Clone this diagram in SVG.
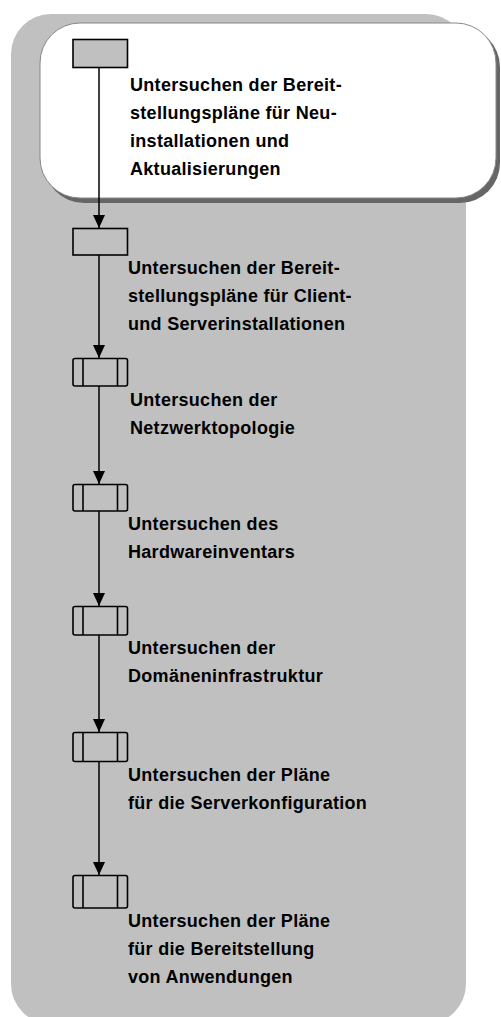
<svg xmlns="http://www.w3.org/2000/svg" width="501" height="1017" viewBox="0 0 501 1017">
<style>
.t{font-family:"Liberation Sans",Arial,sans-serif;font-weight:bold;font-size:18px;letter-spacing:0.3px;fill:#000}
.box{fill:none;stroke:#000;stroke-width:1.6}
.bar{stroke:#000;stroke-width:1.6}
.conn{stroke:#000;stroke-width:1.5;fill:none}
</style>
<defs>
<marker id="arr" markerUnits="userSpaceOnUse" markerWidth="14" markerHeight="14" refX="13" refY="6" orient="auto">
<path d="M0,0 L13,6 L0,12 z" fill="#000"/>
</marker>
</defs>
<rect x="0" y="0" width="501" height="1017" fill="#fff"/>
<g id="panel">
<rect x="11" y="14" width="455" height="1010" rx="40" ry="40" fill="#c0c0c0"/>
</g>
<g id="header">
<rect x="44" y="27" width="456" height="176" rx="40" ry="40" fill="#666"/>
<rect x="40" y="23" width="456" height="175" rx="40" ry="40" fill="#fff" stroke="#888" stroke-width="1"/>
</g>
<g id="connectors">
<line class="conn" x1="99" y1="67" x2="99" y2="228" marker-end="url(#arr)"/>
<line class="conn" x1="99" y1="255" x2="99" y2="358" marker-end="url(#arr)"/>
<line class="conn" x1="99" y1="386" x2="99" y2="484" marker-end="url(#arr)"/>
<line class="conn" x1="99" y1="511" x2="99" y2="606" marker-end="url(#arr)"/>
<line class="conn" x1="99" y1="635" x2="99" y2="732" marker-end="url(#arr)"/>
<line class="conn" x1="99" y1="762" x2="99" y2="875" marker-end="url(#arr)"/>
</g>
<g id="n1">
<rect x="73" y="39.5" width="54.5" height="28" fill="#c0c0c0" stroke="#000" stroke-width="1.6"/>
<text class="t" x="130" y="91">Untersuchen der Bereit-</text>
<text class="t" x="130" y="119">stellungspläne für Neu-</text>
<text class="t" x="130" y="147">installationen und</text>
<text class="t" x="130" y="175">Aktualisierungen</text>
</g>
<g id="n2">
<rect class="box" x="73" y="228.5" width="54.5" height="26.5"/>
<text class="t" x="128" y="274">Untersuchen der Bereit-</text>
<text class="t" x="128" y="302">stellungspläne für Client-</text>
<text class="t" x="128" y="330">und Serverinstallationen</text>
</g>
<g id="n3">
<rect class="box" x="73" y="358.5" width="54.5" height="27.5" rx="2"/>
<line class="bar" x1="83" y1="358.5" x2="83" y2="386"/>
<line class="bar" x1="117.5" y1="358.5" x2="117.5" y2="386"/>
<text class="t" x="130" y="406">Untersuchen der</text>
<text class="t" x="130" y="434">Netzwerktopologie</text>
</g>
<g id="n4">
<rect class="box" x="73" y="484.5" width="54.5" height="26.5" rx="2"/>
<line class="bar" x1="83" y1="484.5" x2="83" y2="511"/>
<line class="bar" x1="117.5" y1="484.5" x2="117.5" y2="511"/>
<text class="t" x="128" y="530">Untersuchen des</text>
<text class="t" x="128" y="558">Hardwareinventars</text>
</g>
<g id="n5">
<rect class="box" x="73" y="606.5" width="54.5" height="28.5" rx="2"/>
<line class="bar" x1="83" y1="606.5" x2="83" y2="635"/>
<line class="bar" x1="117.5" y1="606.5" x2="117.5" y2="635"/>
<text class="t" x="128" y="654">Untersuchen der</text>
<text class="t" x="128" y="682">Domäneninfrastruktur</text>
</g>
<g id="n6">
<rect class="box" x="73" y="732.5" width="54.5" height="29" rx="2"/>
<line class="bar" x1="83" y1="732.5" x2="83" y2="761.5"/>
<line class="bar" x1="117.5" y1="732.5" x2="117.5" y2="761.5"/>
<text class="t" x="128" y="781">Untersuchen der Pläne</text>
<text class="t" x="128" y="809">für die Serverkonfiguration</text>
</g>
<g id="n7">
<rect class="box" x="73" y="875.5" width="54.5" height="32.5" rx="2"/>
<line class="bar" x1="83" y1="875.5" x2="83" y2="908"/>
<line class="bar" x1="117.5" y1="875.5" x2="117.5" y2="908"/>
<text class="t" x="128" y="927">Untersuchen der Pläne</text>
<text class="t" x="128" y="955">für die Bereitstellung</text>
<text class="t" x="128" y="983">von Anwendungen</text>
</g>
</svg>
